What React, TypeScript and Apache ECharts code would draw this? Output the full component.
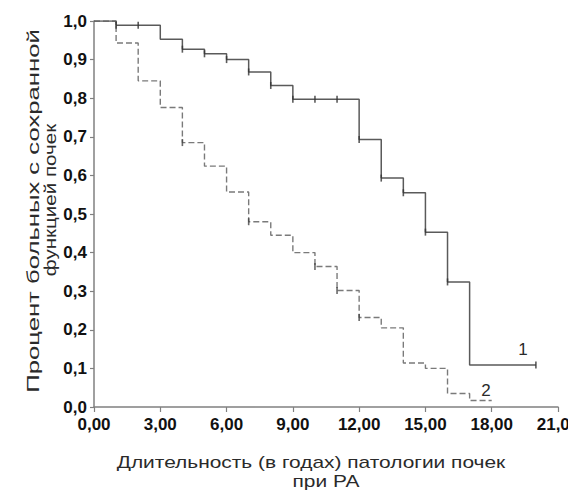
import React, { useEffect, useRef } from "react";
import * as echarts from "echarts";

const xTicks = [0, 3, 6, 9, 12, 15, 18, 21];
const yTicks = [0, 0.1, 0.2, 0.3, 0.4, 0.5, 0.6, 0.7, 0.8, 0.9, 1.0];

// Group 1 (solid): Kaplan–Meier steps
const years1 = [0, 1, 3, 4, 5, 6, 7, 8, 9, 12, 13, 14, 15, 16, 17, 20];
const surv1 = [1.0, 0.989, 0.953, 0.927, 0.915, 0.9, 0.868, 0.833, 0.797, 0.693, 0.593, 0.555, 0.453, 0.324, 0.109, 0.109];
const censYears1 = [1, 2, 4, 5, 6, 7, 8, 9, 10, 11, 12, 13, 14, 15, 16, 20];
const censSurv1 = [0.989, 0.989, 0.927, 0.915, 0.9, 0.868, 0.833, 0.797, 0.797, 0.797, 0.693, 0.593, 0.555, 0.453, 0.324, 0.109];

// Group 2 (dashed)
const years2 = [0, 1, 2, 3, 4, 5, 6, 7, 8, 9, 10, 11, 12, 13, 14, 15, 16, 17, 18];
const surv2 = [1.0, 0.943, 0.845, 0.776, 0.685, 0.624, 0.557, 0.48, 0.445, 0.4, 0.364, 0.302, 0.232, 0.205, 0.114, 0.1, 0.035, 0.017, 0.017];
const censYears2 = [4, 7, 10, 11, 12];
const censSurv2 = [0.685, 0.48, 0.364, 0.302, 0.232];

const xTitleLines = ["Длительность (в годах) патологии почек", "при РА"];
const yTitleLines = ["Процент больных с сохранной", "функцией почек"];
const groupLabels = ["1", "2"];

const comma = (v: number, d: number) => v.toFixed(d).replace(".", ",");

export default function App() {
  const ref = useRef<HTMLDivElement>(null);
  useEffect(() => {
    if (!ref.current) return;
    const chart = echarts.init(ref.current, undefined, { renderer: "svg" });
    const font = "Arial, 'Liberation Sans', sans-serif";
    const titleStyle = (text: string) => ({
      text,
      fill: "#2a2a2a",
      font: `17px ${font}`,
      align: "center",
      verticalAlign: "middle",
    });
    chart.setOption({
      animation: false,
      backgroundColor: "#ffffff",
      grid: {
        left: 94,
        right: 10,
        top: 21,
        bottom: 90,
        containLabel: false,
        outerBoundsMode: "none",
      },
      xAxis: {
        type: "value",
        min: xTicks[0],
        max: xTicks[xTicks.length - 1],
        interval: 3,
        axisLine: { show: true, lineStyle: { color: "#808080", width: 1.5 } },
        axisTick: { show: true, length: 5, lineStyle: { color: "#808080", width: 1.2 } },
        splitLine: { show: false },
        axisLabel: {
          margin: 9,
          color: "#111",
          fontWeight: "bold",
          fontSize: 17,
          fontFamily: font,
          hideOverlap: false,
          formatter: (v: number) => comma(v, 2),
        },
      },
      yAxis: {
        type: "value",
        min: yTicks[0],
        max: yTicks[yTicks.length - 1],
        interval: 0.1,
        axisLine: { show: true, lineStyle: { color: "#808080", width: 1.5 } },
        axisTick: { show: true, length: 4, lineStyle: { color: "#808080", width: 1.2 } },
        splitLine: { show: false },
        axisLabel: {
          margin: 7,
          color: "#111",
          fontWeight: "bold",
          fontSize: 17,
          fontFamily: font,
          formatter: (v: number) => comma(v, 1),
        },
      },
      series: [
        {
          type: "line",
          step: "end",
          data: years1.map((x, i) => [x, surv1[i]]),
          showSymbol: false,
          symbol: "none",
          lineStyle: { color: "#5a5a5a", width: 1.5 },
          z: 3,
        },
        {
          type: "line",
          step: "end",
          data: years2.map((x, i) => [x, surv2[i]]),
          showSymbol: false,
          symbol: "none",
          lineStyle: { color: "#7a7a7a", width: 1.4, type: [6, 3] },
          z: 2,
        },
        {
          type: "scatter",
          data: censYears1.map((x, i) => [x, censSurv1[i]]),
          symbol: "rect",
          symbolSize: [1.6, 7],
          itemStyle: { color: "#333" },
          z: 4,
        },
        {
          type: "scatter",
          data: censYears2.map((x, i) => [x, censSurv2[i]]),
          symbol: "rect",
          symbolSize: [1.6, 7],
          itemStyle: { color: "#444" },
          z: 4,
        },
      ],
      graphic: [
        { type: "text", x: 311, y: 462, scaleX: 1.23, style: titleStyle(xTitleLines[0]) },
        { type: "text", x: 326, y: 481, scaleX: 1.23, style: titleStyle(xTitleLines[1]) },
        { type: "text", x: 33, y: 211, rotation: Math.PI / 2, scaleX: 1.51, style: titleStyle(yTitleLines[0]) },
        { type: "text", x: 50, y: 200, rotation: Math.PI / 2, scaleX: 1.21, style: titleStyle(yTitleLines[1]) },
        { type: "text", x: 523, y: 349, style: titleStyle(groupLabels[0]) },
        { type: "text", x: 486, y: 390, style: titleStyle(groupLabels[1]) },
      ],
    });
    return () => chart.dispose();
  }, []);
  return (
    <div
      ref={ref}
      style={{ position: "fixed", left: 0, top: 0, width: 568, height: 497 }}
    />
  );
}
